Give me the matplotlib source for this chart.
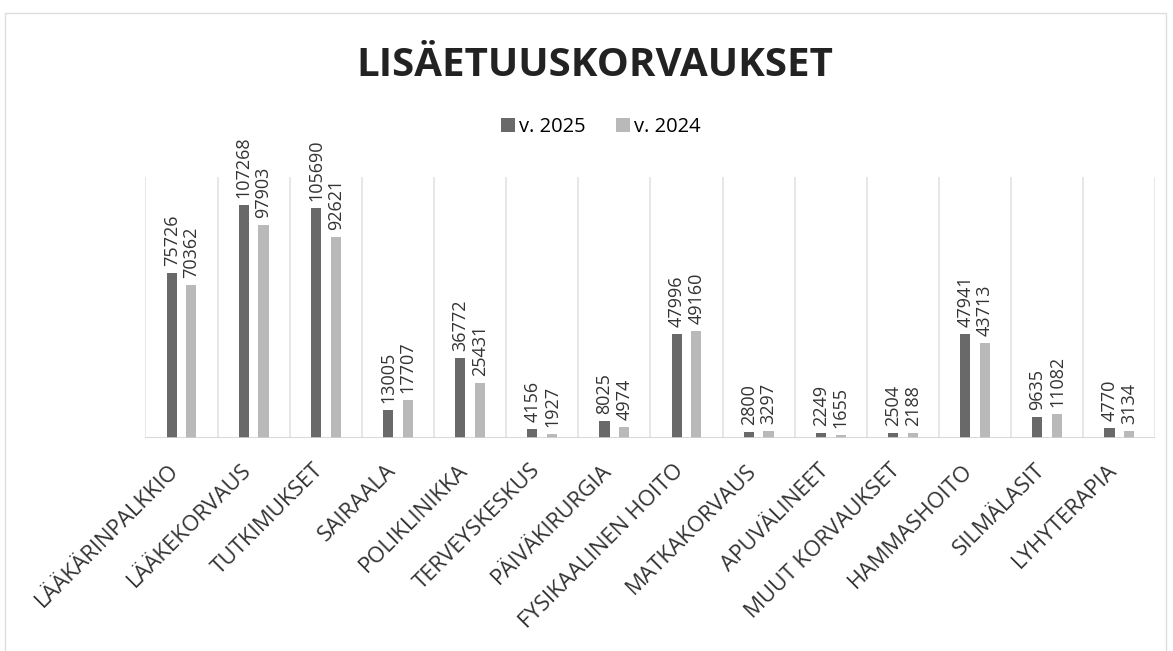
import numpy as np
import matplotlib
matplotlib.use('Agg')
import matplotlib.pyplot as plt
from matplotlib.patches import Rectangle
from matplotlib.transforms import ScaledTranslation

# category names and values
categories = ['LÄÄKÄRINPALKKIO', 'LÄÄKEKORVAUS', 'TUTKIMUKSET', 'SAIRAALA',
              'POLIKLINIKKA', 'TERVEYSKESKUS', 'PÄIVÄKIRURGIA', 'FYSIKAALINEN HOITO',
              'MATKAKORVAUS', 'APUVÄLINEET', 'MUUT KORVAUKSET', 'HAMMASHOITO',
              'SILMÄLASIT', 'LYHYTERAPIA']
v2025 = [75726, 107268, 105690, 13005, 36772, 4156, 8025, 47996,
         2800, 2249, 2504, 47941, 9635, 4770]
v2024 = [70362, 97903, 92621, 17707, 25431, 1927, 4974, 49160,
         3297, 1655, 2188, 43713, 11082, 3134]

plt.rcParams['font.family'] = ['Open Sans', 'DejaVu Sans']

fig = plt.figure(figsize=(11.73, 6.51), dpi=100)
ax = fig.add_axes([0.124, 0.327, 0.861, 0.401])

x = np.arange(len(categories))
w = 0.14
off = 0.137
b1 = ax.bar(x - off, v2025, w, color='#696969', label='v. 2025')
b2 = ax.bar(x + off, v2024, w, color='#b9b9b9', label='v. 2024')

for bars in (b1, b2):
    for r in bars:
        ax.annotate(str(int(r.get_height())),
                    (r.get_x() + r.get_width() / 2, r.get_height()),
                    xytext=(0, 5), textcoords='offset points',
                    rotation=90, ha='center', va='bottom',
                    fontsize=13, color='#333333')

ax.set_xlim(-0.5, len(categories) - 0.5)
ax.set_ylim(0, 120000)
for b in np.arange(-0.5, len(categories), 1.0):
    ax.axvline(b, color='#e3e3e3', lw=1.2, zorder=0)
ax.axhline(0, color='#d0d0d0', lw=1.2)

for s in ax.spines.values():
    s.set_visible(False)
ax.set_yticks([])
ax.set_xticks(x)
ax.set_xticklabels(categories, rotation=45, ha='right', va='center',
                   rotation_mode='anchor', fontsize=16, color='#333333')
ax.tick_params(axis='x', length=0, pad=21)
shift = ScaledTranslation(-4 / 72, 0, fig.dpi_scale_trans)
for lab in ax.get_xticklabels():
    lab.set_transform(lab.get_transform() + shift)

fig.text(0.507, 0.9, 'LISÄETUUSKORVAUKSET', ha='center', va='center',
         fontsize=29, fontweight='bold', color='#222222')
fig.legend(loc='center', bbox_to_anchor=(0.512, 0.805), ncol=2, frameon=False,
           fontsize=14.5, handlelength=0.7, handleheight=0.7, handletextpad=0.2,
           columnspacing=1.5)

fig.patches.append(Rectangle((0.004, -0.01), 0.99, 0.99, transform=fig.transFigure,
                             fill=False, edgecolor='#dddddd', lw=1))

fig.savefig('out.png', dpi=100)
